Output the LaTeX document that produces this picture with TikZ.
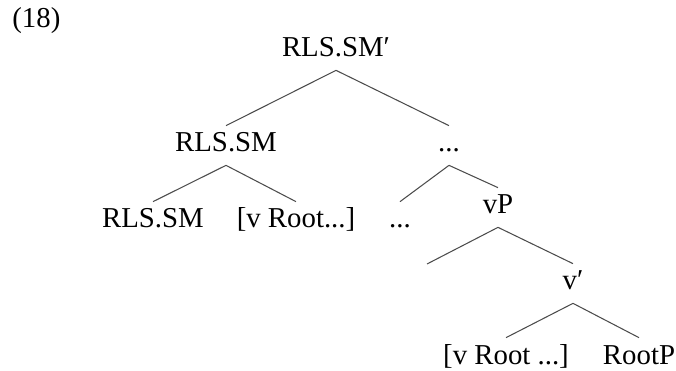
\documentclass[tikz,border=0pt]{standalone}
\usepackage{fontspec}
\setmainfont{Liberation Serif}

\begin{document}
\begin{tikzpicture}[
        x=0.02cm, y=-0.02cm,
        cat/.style={anchor=base, inner sep=0pt, text height=0.52cm, text depth=0.26cm,
            font=\fontsize{16.4}{19}\selectfont},
        branch/.style={draw=black!70, line width=0.6pt},
    ]
    \useasboundingbox (0,0) rectangle (676,371);

    % Example number
    \node[cat, anchor=base west] (num) at (12,28) {(18)};

    % Upper part of the tree
    \node[cat] (top) at (336,57) {RLS.SM′};
    \node[cat] (sm) at (226,152) {RLS.SM};
    \node[cat] (dotsA) at (449,152) {...};

    \node[cat] (smL) at (153,228) {RLS.SM};
    \node[cat] (vroot) at (296,228) {[v Root...]};
    \node[cat] (dotsB) at (400,228) {...};
    \node[cat] (vP) at (498,214) {vP};

    % Lower part: vP with an empty specifier
    \coordinate (spec) at (427,264);
    \node[cat] (vbar) at (573,290) {v′};
    \node[cat] (vrootB) at (506,364) {[v Root ...]};
    \node[cat] (rootP) at (639,364) {RootP};

    % Branches
    \foreach \p/\c in {top/sm, top/dotsA, sm/smL, sm/vroot, dotsA/dotsB, dotsA/vP,
            vbar/vrootB, vbar/rootP}
        \draw[branch] (\p.south) -- (\c.north);
    \draw[branch] (vP.south) -- (spec);
    \draw[branch] (vP.south) -- (vbar.north);
\end{tikzpicture}
\end{document}
